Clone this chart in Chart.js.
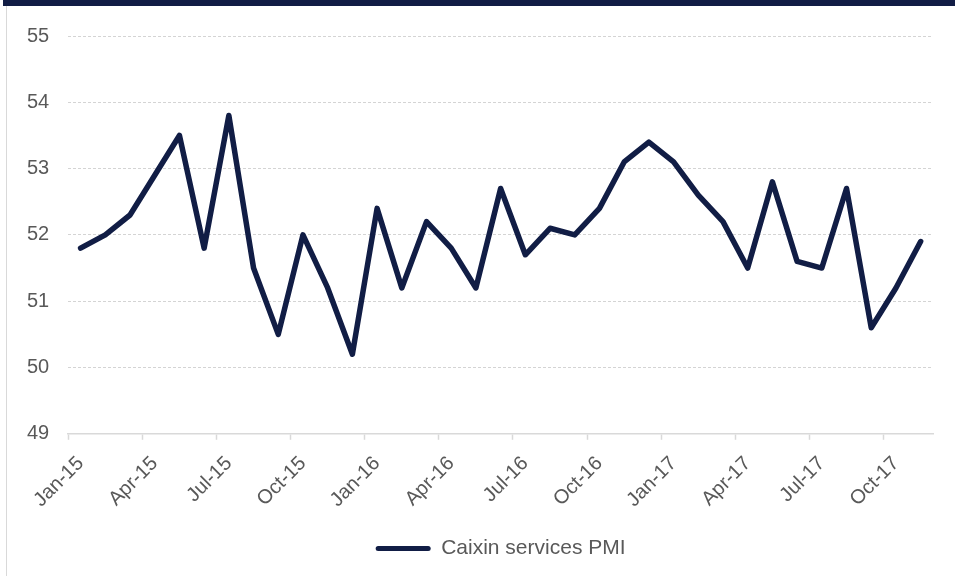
<!DOCTYPE html>
<html>
<head>
<meta charset="utf-8">
<script src="https://cdn.jsdelivr.net/npm/chart.js@4/dist/chart.umd.min.js"></script>
<style>
    html, body { margin: 0; padding: 0; background: #ffffff; }
    #wrap { position: relative; width: 955px; height: 576px; overflow: hidden; }
    #topBand { position: absolute; left: 3px; top: 0; width: 952px; height: 6px; background: #111d45; }
    #leftLine { position: absolute; left: 6px; top: 6px; width: 1px; height: 570px; background: #d9d9d9; }
    canvas { position: absolute; left: 0; top: 0; }
</style>
</head>
<body>
<div id="wrap">
    <canvas id="pmiChart" width="955" height="576"></canvas>
    <div id="topBand"></div>
    <div id="leftLine"></div>
</div>
<script>
// ----- D A T A
const MONTHS = [
    "Jan-15", "Feb-15", "Mar-15", "Apr-15", "May-15", "Jun-15", "Jul-15", "Aug-15", "Sep-15", "Oct-15", "Nov-15", "Dec-15",
    "Jan-16", "Feb-16", "Mar-16", "Apr-16", "May-16", "Jun-16", "Jul-16", "Aug-16", "Sep-16", "Oct-16", "Nov-16", "Dec-16",
    "Jan-17", "Feb-17", "Mar-17", "Apr-17", "May-17", "Jun-17", "Jul-17", "Aug-17", "Sep-17", "Oct-17", "Nov-17"
];
const SERVICES_PMI = [
    51.8, 52.0, 52.3, 52.9, 53.5, 51.8, 53.8, 51.5, 50.5, 52.0, 51.2, 50.2,
    52.4, 51.2, 52.2, 51.8, 51.2, 52.7, 51.7, 52.1, 52.0, 52.4, 53.1, 53.4,
    53.1, 52.6, 52.2, 51.5, 52.8, 51.6, 51.5, 52.7, 50.6, 51.2, 51.9
];
const SERIES_NAME = "Caixin services PMI";
const Y_MIN = 49, Y_MAX = 55;

// ----- S E T T I N G S
const
    FONT_FAMILY = "'Liberation Sans', Arial, sans-serif",
    TEXT_COLOR = "#595959",
    LINE_COLOR = "#111d45",
    GRID_COLOR = "#d4d4d4";

const config = {
    type: "line",
    data: {
        labels: MONTHS,
        datasets: [{
            label: SERIES_NAME,
            data: SERVICES_PMI,
            borderColor: LINE_COLOR,
            backgroundColor: LINE_COLOR,
            borderWidth: 5.5,
            borderJoinStyle: "round",
            borderCapStyle: "round",
            pointRadius: 0,
            tension: 0,
            fill: false
        }]
    },
    options: {
        responsive: false,
        animation: false,
        layout: { padding: { left: 8, right: 22, top: 36, bottom: 7 } },
        plugins: {
            tooltip: { enabled: false },
            legend: {
                position: "bottom",
                fullSize: false,
                labels: {
                    color: TEXT_COLOR,
                    font: { family: FONT_FAMILY, size: 21 },
                    padding: 14,
                    boxWidth: 55,
                    boxHeight: 5,
                    useBorderRadius: true,
                    borderRadius: 2.5,
                    generateLabels: function (chart) {
                        const items = Chart.defaults.plugins.legend.labels.generateLabels(chart);
                        items.forEach(it => { it.lineWidth = 0; it.fillStyle = LINE_COLOR; });
                        return items;
                    }
                }
            }
        },
        scales: {
            x: {
                offset: true,
                afterFit: scale => { scale.paddingLeft = 0; scale.paddingRight = 0; },
                grid: {
                    offset: true,
                    drawOnChartArea: false,
                    tickLength: 6,
                    tickWidth: 1.5,
                    tickColor: ctx => (ctx.index % 3 === 0 ? "#d9d9d9" : "rgba(0,0,0,0)")
                },
                border: { display: true, color: "#d9d9d9", width: 1.5 },
                ticks: {
                    autoSkip: false,
                    maxRotation: 45,
                    minRotation: 45,
                    padding: 12,
                    color: TEXT_COLOR,
                    font: { family: FONT_FAMILY, size: 20 },
                    callback: (val, i) => (i % 3 === 0 ? MONTHS[i] : "")
                }
            },
            y: {
                min: Y_MIN,
                max: Y_MAX,
                grid: {
                    color: ctx => (ctx.tick && ctx.tick.value === Y_MIN ? "rgba(0,0,0,0)" : GRID_COLOR),
                    lineWidth: 1,
                    drawTicks: false
                },
                border: { display: false, dash: [3, 2] },
                ticks: {
                    stepSize: 1,
                    padding: 19,
                    color: TEXT_COLOR,
                    font: { family: FONT_FAMILY, size: 20 }
                }
            }
        }
    }
};

const ctx = document.getElementById("pmiChart");
window.pmiChart = new Chart(ctx, config);
</script>
</body>
</html>
